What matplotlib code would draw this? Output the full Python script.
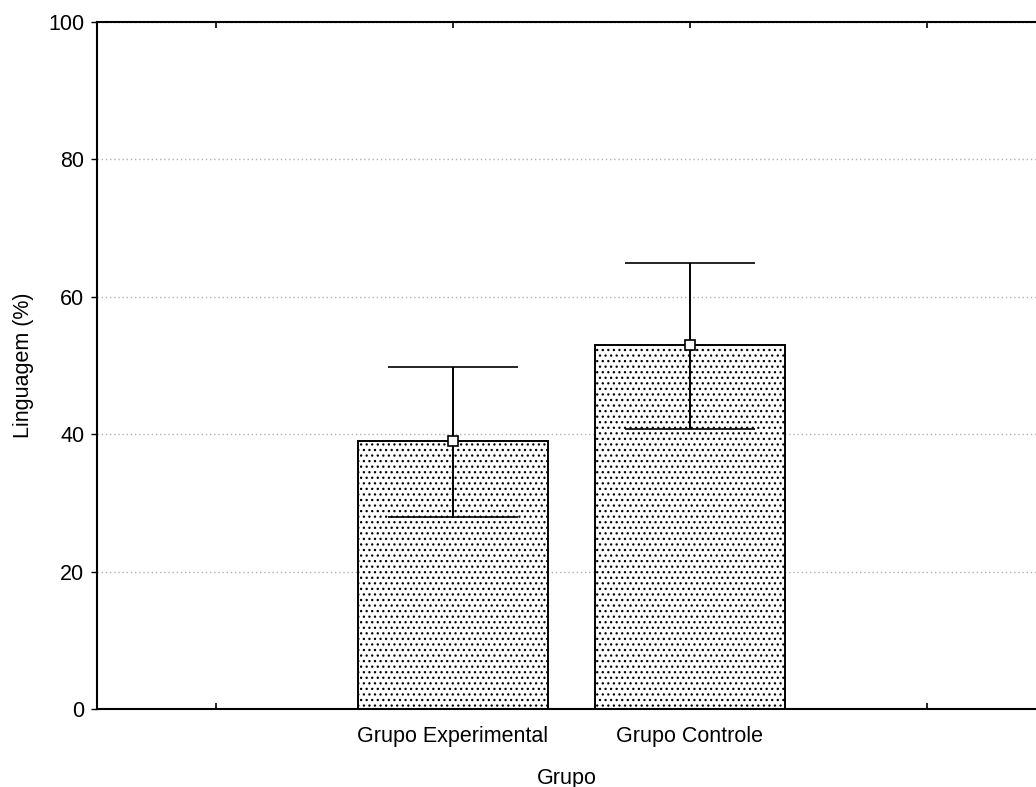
import matplotlib
matplotlib.use('Agg')
import matplotlib.pyplot as plt
import numpy as np

plt.rcParams['font.family'] = ['Liberation Sans', 'DejaVu Sans']
plt.rcParams['hatch.linewidth'] = 0.9

# dados
grupos = ['Grupo Experimental', 'Grupo Controle']
medias = [39.0, 53.0]
erro_inf = [11.0, 12.2]
erro_sup = [10.8, 12.0]

fig = plt.figure(figsize=(10.36, 7.87), dpi=100)
ax = fig.add_axes([0.0936, 0.099, 0.9064, 0.873])

pos = np.arange(1, len(grupos) + 1)
ax.bar(pos, medias, width=0.8, color='white', edgecolor='black',
       linewidth=1.4, hatch='...', zorder=2)
ax.errorbar(pos, medias, yerr=[erro_inf, erro_sup], fmt='s', color='black',
            mfc='white', mec='black', ms=7, mew=1.2, elinewidth=1.4,
            capsize=47, capthick=1.6, zorder=3)

fs = 15.5
ax.set_xlim(-0.5, 3.46)
ax.set_ylim(0, 100)
ax.set_xticks([0, 1, 2, 3])
ax.set_xticklabels([''] + grupos + [''], fontsize=fs)
ax.set_yticks([0, 20, 40, 60, 80, 100])
ax.tick_params(axis='y', direction='out', length=4, labelsize=fs, width=1, pad=5)
ax.tick_params(axis='x', direction='in', length=4, top=True, width=1.2, pad=12)
ax.yaxis.grid(True, linestyle=(0, (1, 2)), color='#b0b0b0', linewidth=1, zorder=0)
ax.set_axisbelow(True)
ax.spines['right'].set_visible(False)
for s in ['left', 'top', 'bottom']:
    ax.spines[s].set_linewidth(1.5)

ax.set_xlabel('Grupo', fontsize=fs, labelpad=15)
ax.set_ylabel('Linguagem (%)', fontsize=fs, labelpad=10)

fig.savefig('out.png', dpi=100)
